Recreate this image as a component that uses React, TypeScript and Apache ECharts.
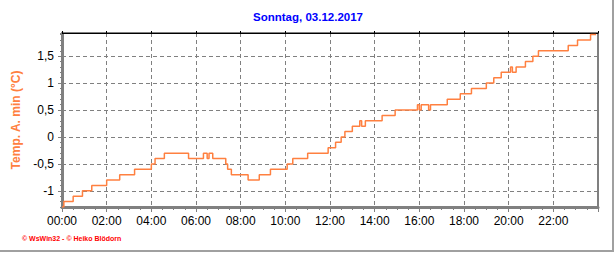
import React, { useEffect, useRef } from "react";
import * as echarts from "echarts";

// Change points of the step line (time of change, new value)
const changeTimes: string[] = [
  "00:00", "00:05", "00:30", "00:55", "01:20", "02:00", "02:35", "03:15",
  "04:00", "04:10", "04:35", "05:40", "06:20", "06:30", "06:35", "06:45",
  "07:20", "07:25", "07:35", "08:20", "08:50", "09:20", "10:05", "10:20",
  "11:00", "11:55", "12:15", "12:30", "12:40", "13:00", "13:20", "13:25",
  "13:35", "14:20", "14:55", "15:55", "16:00", "16:05", "16:25", "16:30",
  "17:15", "17:50", "18:20", "19:00", "19:20", "19:40", "20:05", "20:10",
  "20:20", "20:45", "21:05", "21:20", "22:40", "23:05", "23:40", "23:55",
];
const tempValues: number[] = [
  -1.3, -1.2, -1.1, -1.0, -0.9, -0.8, -0.7, -0.6,
  -0.5, -0.4, -0.3, -0.4, -0.3, -0.4, -0.3, -0.4,
  -0.5, -0.6, -0.7, -0.8, -0.7, -0.6, -0.5, -0.4,
  -0.3, -0.2, -0.1, 0.0, 0.1, 0.2, 0.3, 0.2,
  0.3, 0.4, 0.5, 0.6, 0.5, 0.6, 0.5, 0.6,
  0.7, 0.8, 0.9, 1.0, 1.1, 1.2, 1.3, 1.2,
  1.3, 1.4, 1.5, 1.6, 1.7, 1.8, 1.9, 1.9,
];
const yTickValues: number[] = [-1, -0.5, 0, 0.5, 1, 1.5];
const titleText = "Sonntag, 03.12.2017";
const yAxisName = "Temp. A. min (°C)";
const footerText = "© WsWin32 - © Heiko Blödorn";

const toMinutes = (s: string) => {
  const [h, m] = s.split(":").map(Number);
  return h * 60 + m;
};
const pad = (n: number) => (n < 10 ? "0" + n : String(n));

export default function App() {
  const ref = useRef<HTMLDivElement>(null);
  useEffect(() => {
    if (!ref.current) return;
    const chart = echarts.init(ref.current, undefined, { renderer: "svg" });
    const font = 'Arial, "Liberation Sans", sans-serif';
    const gray = "#808080";
    const orange = "#ff8040";
    const data = changeTimes.map((t, i) => [toMinutes(t), tempValues[i]]);
    chart.setOption({
      animation: false,
      backgroundColor: "#ffffff",
      title: {
        text: titleText,
        left: "center",
        top: 11,
        padding: 0,
        textStyle: { color: "#0000ff", fontSize: 11.5, fontWeight: "bold", fontFamily: font },
      },
      grid: {
        left: 62,
        right: 18,
        top: 33,
        bottom: 46,
        show: true,
        borderColor: "#000000",
        borderWidth: 1,
        backgroundColor: "transparent",
      },
      xAxis: [
        {
          type: "value",
          position: "bottom",
          min: 0,
          max: 1440,
          interval: 120,
          axisLine: { show: true, onZero: false, lineStyle: { color: gray, width: 3 } },
          axisTick: { show: true, length: 5, lineStyle: { color: gray, width: 1 } },
          minorTick: { show: true, splitNumber: 4, length: 3, lineStyle: { color: gray, width: 1 } },
          axisLabel: {
            color: "#000",
            fontSize: 12,
            fontFamily: font,
            margin: 8,
            formatter: (v: number) => (v >= 1440 ? "" : pad(Math.floor(v / 60)) + ":" + pad(v % 60)),
          },
          splitLine: { show: true, lineStyle: { color: gray, width: 1, type: [4, 3] } },
        },
        {
          type: "value",
          position: "top",
          min: 0,
          max: 1440,
          interval: 120,
          axisLine: { show: true, onZero: false, lineStyle: { color: "#000", width: 1 } },
          axisTick: { show: true, length: 2, lineStyle: { color: "#000", width: 1 } },
          axisLabel: { show: false },
          splitLine: { show: false },
        },
      ],
      yAxis: [
        {
          type: "value",
          position: "left",
          min: -1.3,
          max: 1.93,
          interval: 0.1,
          axisLine: { show: true, onZero: false, lineStyle: { color: gray, width: 3 } },
          axisTick: { show: true, length: 2, lineStyle: { color: gray, width: 1 } },
          axisLabel: { show: false },
          splitLine: { show: false },
        },
        {
          type: "value",
          position: "left",
          min: -1.3,
          max: 1.93,
          name: yAxisName,
          nameLocation: "middle",
          nameGap: 37,
          nameTextStyle: { color: orange, fontSize: 12, fontWeight: "bold", fontFamily: font },
          axisLine: { show: false, onZero: false },
          axisTick: { show: true, length: 4, customValues: yTickValues, lineStyle: { color: gray, width: 1 } },
          axisLabel: {
            color: "#000",
            fontSize: 12,
            fontFamily: font,
            margin: 8,
            customValues: yTickValues,
            formatter: (v: number) => String(v).replace(".", ","),
          },
          splitLine: { show: true, lineStyle: { color: gray, width: 1, type: [4, 3] } },
        },
      ],
      series: [
        {
          type: "line",
          xAxisIndex: 0,
          yAxisIndex: 0,
          data,
          step: "end",
          showSymbol: false,
          lineStyle: { color: orange, width: 1.5 },
          silent: true,
        },
      ],
      graphic: [
        {
          type: "text",
          left: 22,
          top: 235,
          style: { text: footerText, fill: "#ff0000", fontSize: 7, fontWeight: "bold", fontFamily: font },
        },
        {
          type: "line",
          shape: { x1: 613, y1: 0, x2: 613, y2: 252 },
          style: { stroke: "#a0a0a0", lineWidth: 2 },
        },
        {
          type: "line",
          shape: { x1: 0, y1: 251, x2: 614, y2: 251 },
          style: { stroke: "#a0a0a0", lineWidth: 2 },
        },
      ],
    });
    return () => chart.dispose();
  }, []);
  return (
    <div
      ref={ref}
      style={{ position: "fixed", left: 0, top: 0, width: 616, height: 253, background: "#fff" }}
    />
  );
}
